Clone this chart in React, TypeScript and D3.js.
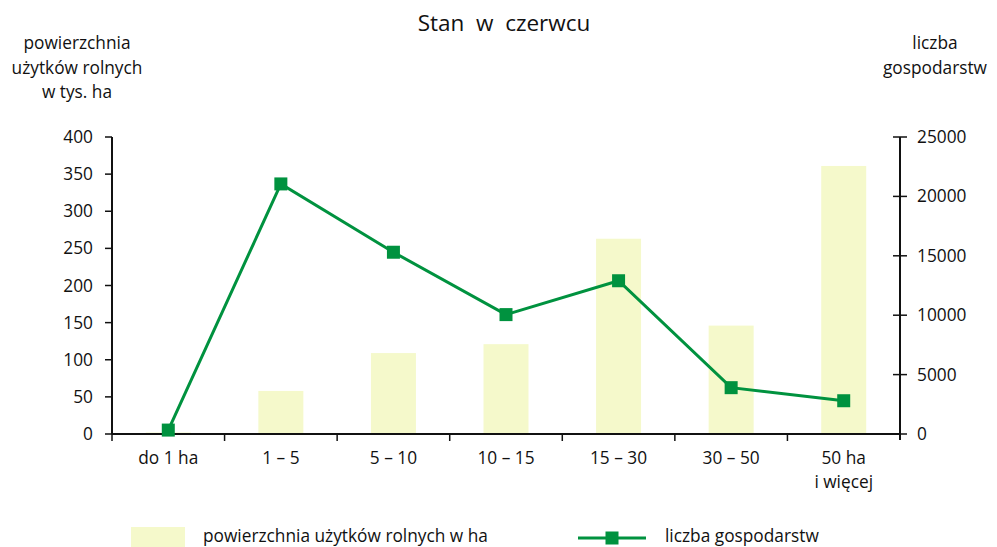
import React from "react";
import * as d3 from "d3";

const categories = ["do 1 ha", "1 – 5", "5 – 10", "10 – 15", "15 – 30", "30 – 50", "50 ha|i więcej"];
const areaValues = [2, 58, 109, 121, 263, 146, 361];
const farmValues = [330, 21050, 15300, 10050, 12900, 3900, 2800];
const leftTicks = [0, 50, 100, 150, 200, 250, 300, 350, 400];
const rightTicks = [0, 5000, 10000, 15000, 20000, 25000];

const W = 997, H = 547;
const left = 112, right = 900, top = 137, bottom = 434;
const font = "'Open Sans', sans-serif";
const green = "#00923f";
const barColor = "#f5f9cb";
const fs = 17.3;

export default function App() {
  const x = d3.scaleBand<string>().domain(categories).range([left, right]).paddingInner(0).paddingOuter(0);
  const yL = d3.scaleLinear().domain([0, 400]).range([bottom, top]);
  const yR = d3.scaleLinear().domain([0, 25000]).range([bottom, top]);
  const barW = 45;
  const cx = (c: string) => (x(c) as number) + x.bandwidth() / 2;
  const line = d3.line<number>().x((_, i) => cx(categories[i])).y((v) => yR(v));
  const ms = 13;

  return (
    <svg width={W} height={H} style={{ position: "absolute", left: 0, top: 0, background: "#fff" }} fontFamily={font}>
      <text x={504} y={31} textAnchor="middle" fontSize={22.5} fill="#111">{"Stan\u00a0\u00a0w\u00a0\u00a0czerwcu"}</text>
      {["powierzchnia", "użytków rolnych", "w tys. ha"].map((t, i) => (
        <text key={t} x={77} y={49 + i * 24.5} textAnchor="middle" fontSize={fs} fill="#111">{t}</text>
      ))}
      {["liczba", "gospodarstw"].map((t, i) => (
        <text key={t} x={935} y={49 + i * 24.5} textAnchor="middle" fontSize={fs} fill="#111">{t}</text>
      ))}
      {categories.map((c, i) => (
        <rect key={c} x={cx(c) - barW / 2} y={yL(areaValues[i])} width={barW} height={bottom - yL(areaValues[i])} fill={barColor} />
      ))}
      {/* left axis */}
      <line x1={left} x2={left} y1={top} y2={bottom} stroke="#111" strokeWidth={2} />
      {leftTicks.map((t) => (
        <g key={t}>
          <line x1={left - 7} x2={left} y1={yL(t)} y2={yL(t)} stroke="#111" strokeWidth={1.5} />
          <text x={93} y={yL(t) + 6} textAnchor="end" fontSize={fs} fill="#111">{t}</text>
        </g>
      ))}
      {/* right axis */}
      <line x1={right} x2={right} y1={top} y2={bottom + 6} stroke="#111" strokeWidth={2} />
      {rightTicks.map((t) => (
        <g key={t}>
          <line x1={right - 7} x2={right + 7} y1={yR(t)} y2={yR(t)} stroke="#111" strokeWidth={1.5} />
          <text x={917} y={yR(t) + 6} textAnchor="start" fontSize={fs} fill="#111">{t}</text>
        </g>
      ))}
      {/* x axis */}
      <line x1={left} x2={right} y1={bottom} y2={bottom} stroke="#111" strokeWidth={2} />
      {categories.map((c) => (
        <line key={c} x1={x(c) as number} x2={x(c) as number} y1={bottom} y2={bottom + 7} stroke="#111" strokeWidth={1.5} />
      ))}
      {categories.map((c) =>
        c.split("|").map((t, j) => (
          <text key={c + j} x={cx(c)} y={464 + j * 24} textAnchor="middle" fontSize={fs} fill="#111">{t}</text>
        ))
      )}
      {/* line series */}
      <path d={line(farmValues) || ""} fill="none" stroke={green} strokeWidth={3} />
      {farmValues.map((v, i) => (
        <rect key={i} x={cx(categories[i]) - ms / 2} y={yR(v) - ms / 2} width={ms} height={ms} fill={green} />
      ))}
      {/* legend */}
      <rect x={131} y={527} width={54} height={22} fill={barColor} />
      <text x={203} y={542} fontSize={fs} fill="#111">powierzchnia użytków rolnych w ha</text>
      <line x1={578} x2={646} y1={538} y2={538} stroke={green} strokeWidth={3} />
      <rect x={612 - ms / 2} y={538 - ms / 2} width={ms} height={ms} fill={green} />
      <text x={665} y={542} fontSize={fs} fill="#111">liczba gospodarstw</text>
    </svg>
  );
}
